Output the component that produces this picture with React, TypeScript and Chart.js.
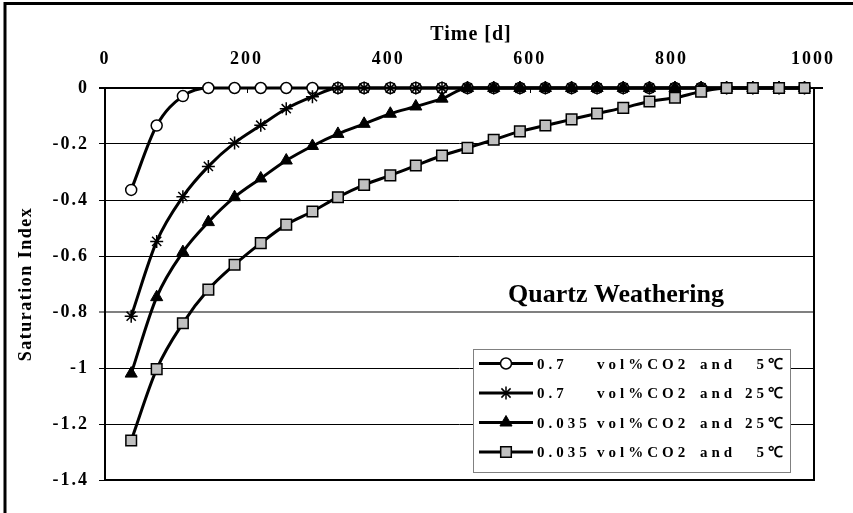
import React, { useEffect, useRef } from 'react';
import { Chart, registerables } from 'chart.js';

Chart.register(...registerables);

const FONT = "'Liberation Serif', 'Times New Roman', Times, serif";

// Time in days (x values)
const timeDays = [37, 73, 110, 146, 183, 220, 256, 293, 329, 366, 403, 439, 476, 512, 549, 586, 622, 659, 695, 732, 769, 805, 842, 878, 915, 952, 988];

// Saturation Index series
const si07vol5C = [-0.364, -0.134, -0.029, 0, 0, 0, 0, 0, 0, 0, 0, 0, 0, 0, 0, 0, 0, 0, 0, 0, 0, 0, 0, 0, 0, 0, 0];
const si07vol25C = [-0.815, -0.548, -0.388, -0.28, -0.196, -0.133, -0.074, -0.031, 0, 0, 0, 0, 0, 0, 0, 0, 0, 0, 0, 0, 0, 0, 0, 0, 0, 0, 0];
const si0035vol25C = [-1.02, -0.747, -0.586, -0.479, -0.39, -0.323, -0.259, -0.207, -0.164, -0.128, -0.092, -0.066, -0.038, 0, 0, 0, 0, 0, 0, 0, 0, 0, 0, 0, 0, 0, 0];
const si0035vol5C = [-1.259, -1.004, -0.84, -0.72, -0.631, -0.554, -0.488, -0.441, -0.39, -0.346, -0.312, -0.277, -0.241, -0.214, -0.185, -0.155, -0.134, -0.112, -0.091, -0.071, -0.048, -0.035, -0.013, 0, 0, 0, 0];

const seriesCO2 = ['0.7', '0.7', '0.035', '0.035'];
const seriesTemp = ['5℃', '25℃', '25℃', '5℃'];
const seriesValues = [si07vol5C, si07vol25C, si0035vol25C, si0035vol5C];

const styles = [
  { pointStyle: 'circle', radius: 5.5, fill: '#ffffff', bw: 1.5 },
  { pointStyle: 'star', radius: 6.5, fill: '#000000', bw: 1.5 },
  { pointStyle: 'triangle', radius: 7, fill: '#000000', bw: 1 },
  { pointStyle: 'rect', radius: 7.5, fill: '#c0c0c0', bw: 1.5 },
];

function drawMarker(ctx: CanvasRenderingContext2D, style: string, x: number, y: number, r: number, fill: string, lw: number) {
  ctx.save();
  ctx.fillStyle = fill;
  ctx.strokeStyle = '#000';
  ctx.lineWidth = lw;
  ctx.beginPath();
  if (style === 'circle') {
    ctx.arc(x, y, r, 0, Math.PI * 2);
    ctx.fill();
    ctx.stroke();
  } else if (style === 'triangle') {
    for (let i = 0; i < 3; i++) {
      const a = (i * 2 * Math.PI) / 3;
      const px = x + Math.sin(a) * r;
      const py = y - Math.cos(a) * r;
      if (i === 0) ctx.moveTo(px, py);
      else ctx.lineTo(px, py);
    }
    ctx.closePath();
    ctx.fill();
    ctx.stroke();
  } else if (style === 'rect') {
    const s = r * Math.SQRT1_2;
    ctx.rect(x - s, y - s, 2 * s, 2 * s);
    ctx.fill();
    ctx.stroke();
  } else if (style === 'star') {
    for (let i = 0; i < 4; i++) {
      const a = (i * Math.PI) / 4;
      ctx.moveTo(x - Math.cos(a) * r, y - Math.sin(a) * r);
      ctx.lineTo(x + Math.cos(a) * r, y + Math.sin(a) * r);
    }
    ctx.stroke();
  }
  ctx.restore();
}

const decor = {
  id: 'decor',
  beforeDraw(chart: any) {
    chart.ctx.letterSpacing = '2px';
  },
  beforeDatasetsDraw(chart: any) {
    const { ctx, chartArea: a } = chart;
    ctx.save();
    ctx.strokeStyle = '#000';
    ctx.lineWidth = 2;
    ctx.beginPath();
    ctx.moveTo(a.right + 1, a.top);
    ctx.lineTo(a.right + 1, a.bottom + 1);
    ctx.moveTo(a.left, a.bottom);
    ctx.lineTo(a.right + 2, a.bottom);
    ctx.moveTo(a.left - 6, a.top);
    ctx.lineTo(a.right + 10, a.top);
    ctx.stroke();
    ctx.lineWidth = 1;
    const xs = chart.scales.x;
    ctx.beginPath();
    xs.ticks.forEach((t: any) => {
      const px = Math.round(xs.getPixelForValue(t.value)) + 0.5;
      ctx.moveTo(px, a.top);
      ctx.lineTo(px, a.top + 5);
    });
    ctx.stroke();
    ctx.restore();
  },
  afterDraw(chart: any) {
    const ctx: CanvasRenderingContext2D = chart.ctx;
    ctx.save();
    // outer frame
    ctx.strokeStyle = '#000';
    ctx.lineWidth = 3;
    ctx.beginPath();
    ctx.moveTo(5, 2);
    ctx.lineTo(5, 513);
    ctx.moveTo(3.5, 3.5);
    ctx.lineTo(853, 3.5);
    ctx.stroke();

    ctx.fillStyle = '#000';
    // x axis title
    ctx.letterSpacing = '1px';
    ctx.font = `bold 20px ${FONT}`;
    ctx.textAlign = 'center';
    ctx.textBaseline = 'alphabetic';
    ctx.fillText('Time [d]', 471, 40);

    // y axis title
    ctx.save();
    ctx.letterSpacing = '1.5px';
    ctx.font = `bold 18px ${FONT}`;
    ctx.translate(31, 284);
    ctx.rotate(-Math.PI / 2);
    ctx.textAlign = 'center';
    ctx.fillText('Saturation Index', 0, 0);
    ctx.restore();

    // annotation
    ctx.letterSpacing = '0px';
    ctx.font = `bold 26px ${FONT}`;
    ctx.textAlign = 'right';
    ctx.fillText('Quartz Weathering', 724, 302);

    // legend
    ctx.fillStyle = '#fff';
    ctx.fillRect(473, 349, 317, 123);
    ctx.strokeStyle = '#808080';
    ctx.lineWidth = 1;
    ctx.strokeRect(473.5, 349.5, 317, 123);
    const rows = [363.5, 393, 422.5, 452];
    ctx.font = `bold 15px ${FONT}`;
    ctx.letterSpacing = '4px';
    rows.forEach((ry, i) => {
      ctx.strokeStyle = '#000';
      ctx.lineWidth = 3;
      ctx.beginPath();
      ctx.moveTo(479, ry);
      ctx.lineTo(533, ry);
      ctx.stroke();
      const s = styles[i];
      drawMarker(ctx, s.pointStyle, 506, ry, s.radius, s.fill, s.bw);
      ctx.fillStyle = '#000';
      ctx.textAlign = 'left';
      ctx.fillText(seriesCO2[i], 537, ry + 5);
      ctx.fillText('vol%CO2', 597, ry + 5);
      ctx.fillText('and', 700, ry + 5);
      ctx.textAlign = 'right';
      ctx.fillText(seriesTemp[i], 787, ry + 5);
    });
    ctx.restore();
    ctx.letterSpacing = '2px';
  },
};

export default function App() {
  const ref = useRef<HTMLCanvasElement | null>(null);
  useEffect(() => {
    if (!ref.current) return;
    const isMinus08 = (v: number) => Math.abs(v + 0.8) < 1e-6;
    const chart = new Chart(ref.current, {
      type: 'line',
      data: {
        datasets: seriesValues.map((vals, i) => ({
          label: `${seriesCO2[i]} vol%CO2 and ${seriesTemp[i]}`,
          data: timeDays.map((t, j) => ({ x: t, y: vals[j] })),
          borderColor: '#000',
          borderWidth: 3,
          backgroundColor: styles[i].fill,
          pointStyle: styles[i].pointStyle as any,
          pointRadius: styles[i].radius,
          pointBorderWidth: styles[i].bw,
          pointBackgroundColor: styles[i].fill,
          pointBorderColor: '#000',
          cubicInterpolationMode: 'monotone',
          fill: false,
          order: 4 - i,
          clip: false as any,
        })),
      },
      options: {
        animation: false,
        responsive: false,
        maintainAspectRatio: false,
        events: [],
        layout: { padding: { left: 0, top: 0, right: 40, bottom: 33 } },
        plugins: { legend: { display: false }, tooltip: { enabled: false } },
        scales: {
          x: {
            type: 'linear',
            position: 'top',
            min: 0,
            max: 1000,
            ticks: {
              stepSize: 200,
              color: '#000',
              padding: 18,
              maxRotation: 0,
              font: { size: 18, weight: 'bold', family: FONT },
              callback: (v: any) => String(v),
            },
            grid: { display: false, drawTicks: false },
            border: { display: false },
            afterFit: (s: any) => {
              s.height = 88;
            },
          },
          y: {
            type: 'linear',
            min: -1.4,
            max: 0,
            ticks: {
              stepSize: 0.2,
              color: '#000',
              padding: 10,
              font: { size: 18, weight: 'bold', family: FONT },
              callback: (v: any) => {
                const r = Math.round(Number(v) * 10) / 10;
                return r === 0 ? '0' : String(r);
              },
            },
            grid: {
              color: (c: any) => (c.tick && isMinus08(c.tick.value) ? '#808080' : '#000'),
              lineWidth: (c: any) => (c.tick && isMinus08(c.tick.value) ? 2 : 1),
              drawTicks: true,
              tickLength: 6,
              tickColor: '#000',
              tickWidth: 1,
            },
            border: { display: true, color: '#000', width: 2 },
            afterFit: (s: any) => {
              s.width = 105;
            },
          },
        },
      },
      plugins: [decor],
    } as any);
    return () => chart.destroy();
  }, []);
  return (
    <div style={{ position: 'fixed', left: 0, top: 0, width: 853, height: 513, background: '#fff' }}>
      <canvas ref={ref} width={853} height={513} style={{ display: 'block' }} />
    </div>
  );
}
